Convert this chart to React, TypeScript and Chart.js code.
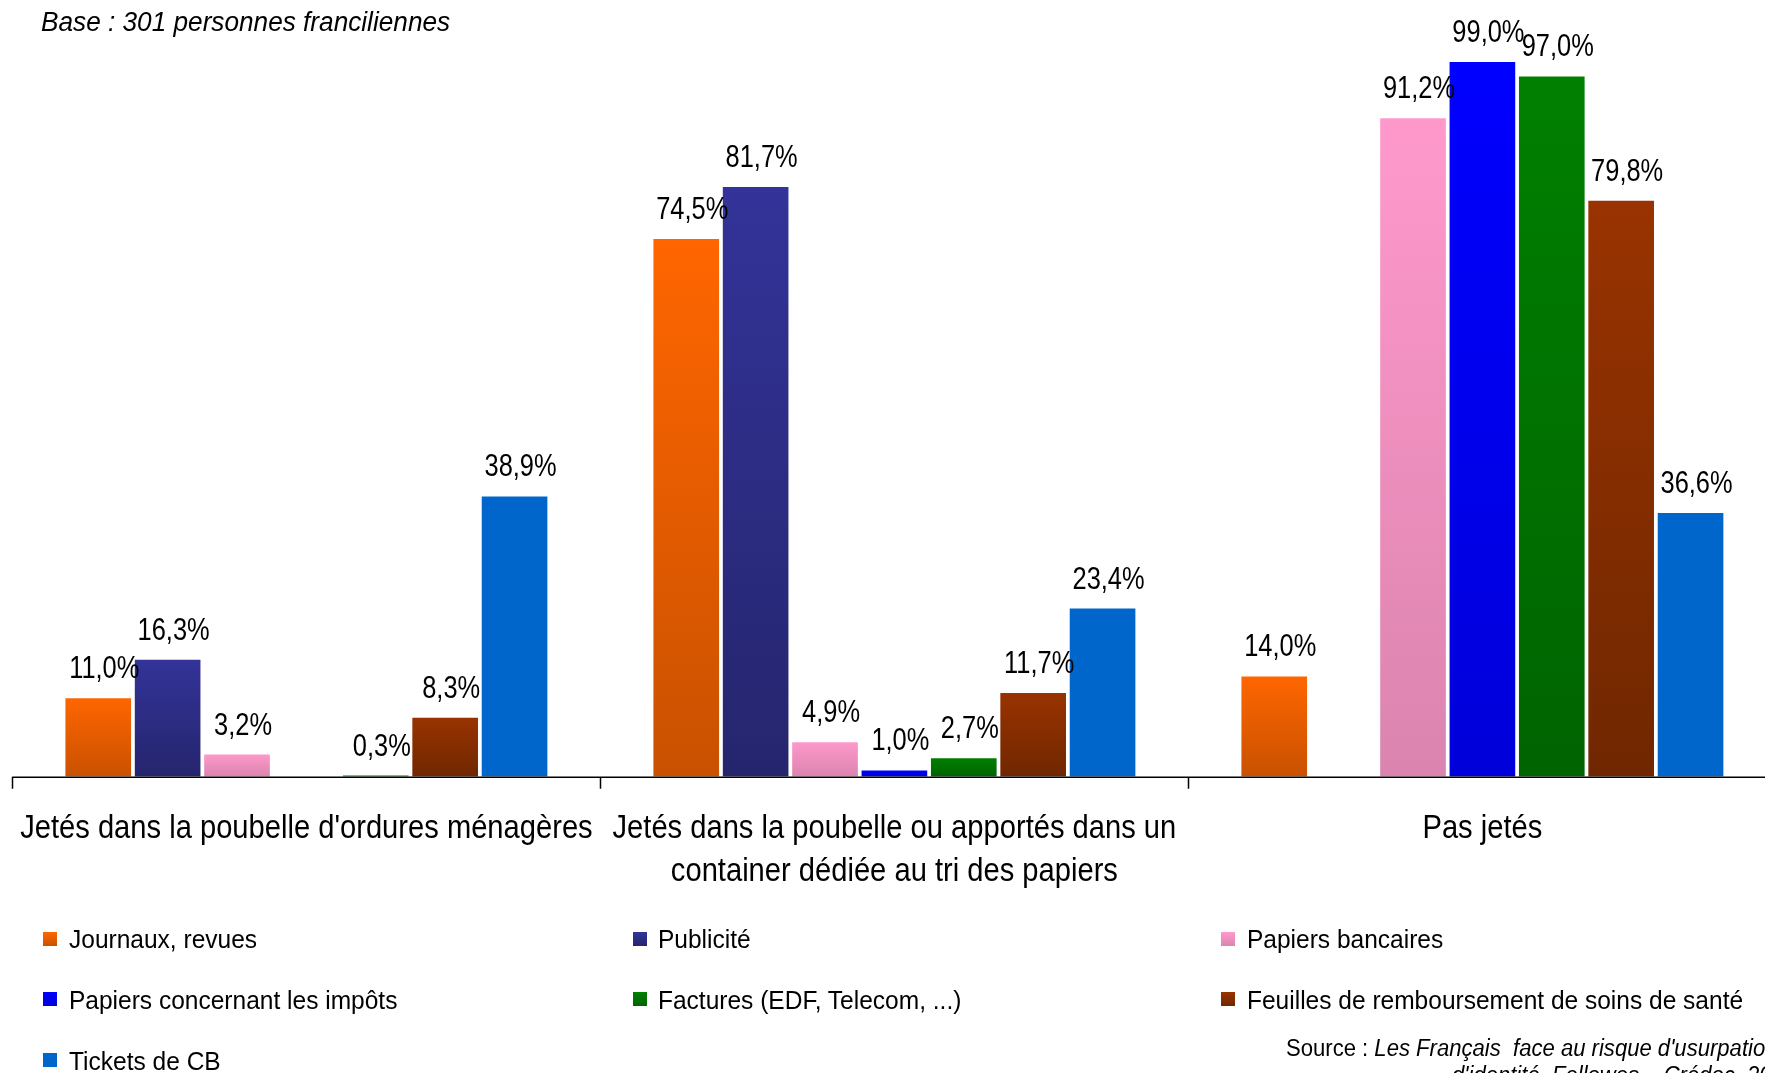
import React, { useEffect, useRef } from "react";
import { Chart, registerables } from "chart.js";
Chart.register(...registerables);

// ---------- DATA ----------
const categories: string[][] = [
  ["Jetés dans la poubelle d'ordures ménagères"],
  ["Jetés dans la poubelle ou apportés dans un", "container dédiée au tri des papiers"],
  ["Pas jetés"],
];
const seriesNames = [
  "Journaux, revues",
  "Publicité",
  "Papiers bancaires",
  "Papiers concernant les impôts",
  "Factures (EDF, Telecom, ...)",
  "Feuilles de remboursement de soins de santé",
  "Tickets de CB",
];
const journaux = [11.0, 74.5, 14.0];
const publicite = [16.3, 81.7, null];
const bancaires = [3.2, 4.9, 91.2];
const impots = [null, 1.0, 99.0];
const factures = [0.3, 2.7, 97.0];
const feuilles = [8.3, 11.7, 79.8];
const tickets = [38.9, 23.4, 36.6];
const seriesValues = [journaux, publicite, bancaires, impots, factures, feuilles, tickets];
// top / bottom gradient colours
const seriesColors: [string, string][] = [
  ["#FF6600", "#C95100"],
  ["#333399", "#25256E"],
  ["#FF99CC", "#DB84AF"],
  ["#0000FF", "#0000DA"],
  ["#008000", "#006400"],
  ["#993300", "#702700"],
  ["#0066CC", "#0066CC"],
];

const title = "Base : 301 personnes franciliennes";
const sourceLabel = "Source : ";
const sourceLine1 = "Les Français  face au risque d'usurpation";
const sourceLine2 = "d'identité, Fellowes – Crédoc, 2009";

// ---------- STYLE ----------
const FONT = "'Liberation Sans', Arial, sans-serif";
const W = 1765;
const H = 1073;
const CW = 1790;

const fmt = (v: number) => v.toFixed(1).replace(".", ",") + "%";

const overlayPlugin = {
  id: "overlay",
  afterDatasetsDraw(chart: any) {
    const ctx = chart.ctx as CanvasRenderingContext2D;
    const xs = chart.scales.x;
    const ys = chart.scales.y;
    const area = chart.chartArea;
    const base = ys.getPixelForValue(0);
    ctx.save();
    // axis
    ctx.strokeStyle = "#000";
    ctx.lineWidth = 1.5;
    ctx.beginPath();
    ctx.moveTo(area.left, base + 0.5);
    ctx.lineTo(area.right, base + 0.5);
    const n = categories.length;
    const step = (area.right - area.left) / n;
    for (let i = 0; i <= n; i++) {
      const x = Math.round(area.left + i * step) + 0.5;
      ctx.moveTo(x, base);
      ctx.lineTo(x, base + 12);
    }
    ctx.stroke();

    // category labels
    ctx.fillStyle = "#000";
    ctx.textAlign = "center";
    ctx.textBaseline = "alphabetic";
    ctx.font = `33px ${FONT}`;
    categories.forEach((lines, i) => {
      const cx = xs.getPixelForValue(i);
      lines.forEach((t, j) => {
        ctx.save();
        ctx.translate(cx, base + 61 + j * 43);
        ctx.scale(0.883, 1);
        ctx.fillText(t, 0, 0);
        ctx.restore();
      });
    });

    // data labels
    ctx.font = `32px ${FONT}`;
    chart.data.datasets.forEach((ds: any, di: number) => {
      const meta = chart.getDatasetMeta(di);
      meta.data.forEach((el: any, idx: number) => {
        const v = ds.data[idx];
        if (v === null || v === undefined) return;
        ctx.save();
        ctx.translate(el.x + 6, el.y - 19);
        ctx.scale(0.795, 1);
        ctx.fillText(fmt(v), 0, 0);
        ctx.restore();
      });
    });
    ctx.restore();
  },
};

export default function App() {
  const ref = useRef<HTMLCanvasElement | null>(null);
  useEffect(() => {
    if (!ref.current) return;
    const chart = new Chart(ref.current, {
      type: "bar",
      data: {
        labels: categories.map((c) => c.join(" ")),
        datasets: seriesValues.map((vals, i) => ({
          label: seriesNames[i],
          data: vals,
          backgroundColor: (c: any) => {
            const ch = c.chart;
            const v = c.raw;
            if (!ch.chartArea || v === null || v === undefined || !ch.scales.y) return seriesColors[i][0];
            const top = ch.scales.y.getPixelForValue(v);
            const bot = ch.scales.y.getPixelForValue(0);
            if (!(bot > top)) return seriesColors[i][0];
            const g = ch.ctx.createLinearGradient(0, top, 0, bot);
            g.addColorStop(0, seriesColors[i][0]);
            g.addColorStop(1, seriesColors[i][1]);
            return g;
          },
          borderColor: "rgba(255,255,255,0.55)",
          borderWidth: 1,
          borderSkipped: "bottom",
          categoryPercentage: 0.826,
          barPercentage: 0.975,
        })),
      },
      options: {
        animation: false,
        responsive: false,
        devicePixelRatio: 1,
        layout: { padding: { left: 12.4, right: CW - 1776.4, top: 53.7, bottom: H - 776.7 } },
        plugins: { legend: { display: false }, tooltip: { enabled: false }, title: { display: false } },
        scales: {
          x: { display: false, grid: { display: false } },
          y: { display: false, min: 0, max: 100 },
        },
      },
      plugins: [overlayPlugin],
    } as any);
    return () => chart.destroy();
  }, []);

  const legendCols = [43, 632.5, 1221];
  const legendRows = [939, 999.8, 1060.6];

  const txt = (size: number, capCenter: number, sx: number, extra: any = {}) => ({
    position: "absolute" as const,
    fontFamily: FONT,
    fontSize: size,
    lineHeight: 1,
    top: capCenter - 0.488 * size,
    whiteSpace: "pre" as const,
    color: "#000",
    transform: `scaleX(${sx})`,
    transformOrigin: "left center",
    ...extra,
  });

  return (
    <div style={{ position: "absolute", left: 0, top: 0, width: W, height: H, overflow: "hidden", background: "#fff" }}>
      <canvas ref={ref} width={CW} height={H} style={{ position: "absolute", left: 0, top: 0, width: CW, height: H }} />
      <div style={txt(27, 22.5, 0.97, { left: 40.5, fontStyle: "italic" })}>{title}</div>
      {seriesNames.map((name, i) => {
        const col = legendCols[i % 3];
        const row = legendRows[Math.floor(i / 3)];
        const [c1, c2] = seriesColors[i];
        return (
          <React.Fragment key={name}>
            <div
              style={{
                position: "absolute",
                left: col,
                top: row - 7.5,
                width: 14,
                height: 14,
                background: `linear-gradient(${c1}, ${c2})`,
              }}
            />
            <div style={txt(26, row, 0.943, { left: col + 25.5 })}>{name}</div>
          </React.Fragment>
        );
      })}
      <div style={txt(23, 1048, 0.96, { left: 1286 })}>
        {sourceLabel}
        <i>{sourceLine1}</i>
      </div>
      <div style={txt(23, 1075, 0.96, { left: 1452 })}>
        <i>{sourceLine2}</i>
      </div>
    </div>
  );
}
